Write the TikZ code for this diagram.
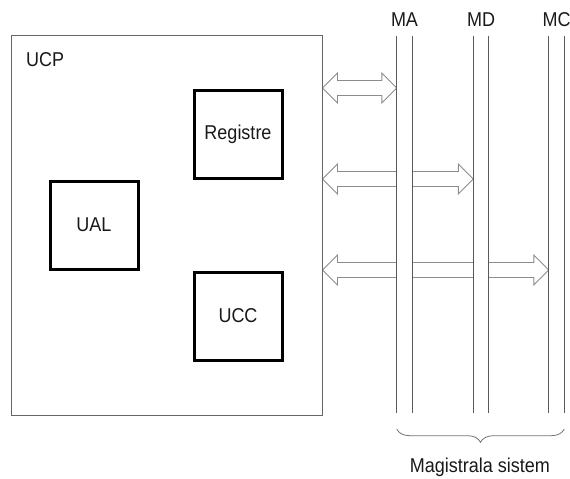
\documentclass[tikz,border=0pt]{standalone}
\usepackage{fontspec}
\setmainfont[FakeStretch=0.9]{Liberation Sans}
\usetikzlibrary{calc,backgrounds,decorations.pathreplacing}

% hollow double arrow from the UCP to a bus, at a given level
\newcommand\busarrow[2]{%
    \draw[busarr] let \p1=(ucp.east |- #1), \p2=(#2.west |- #1) in
        (\x1,\y1) -- (\x1+15pt,\y1+15pt) -- (\x1+15pt,\y1+7.5pt)
        -- (\x2-15pt,\y1+7.5pt) -- (\x2-15pt,\y1+15pt) -- (\x2,\y1)
        -- (\x2-15pt,\y1-15pt) -- (\x2-15pt,\y1-7.5pt)
        -- (\x1+15pt,\y1-7.5pt) -- (\x1+15pt,\y1-15pt) -- cycle;
}

\begin{document}
\begin{tikzpicture}[
    x=1pt, y=-1pt,
    every node/.style={font=\fontsize{20}{24}\selectfont, text=black!90},
    cpubox/.style={
        draw=black!60,
        line width=1pt,
        inner sep=0pt,
        minimum width=311pt,
        minimum height=380pt
    },
    unitbox/.style={
        draw=black,
        line width=3pt,
        inner sep=0pt,
        minimum size=88pt
    },
    busstrip/.style={
        fill=white,
        inner sep=0pt,
        minimum width=15pt,
        minimum height=377pt
    },
    busline/.style={draw=black!65, line width=0.9pt},
    busarr/.style={draw=black!45, line width=0.9pt, line join=miter},
    busbrace/.style={
        draw=black!55,
        line width=0.8pt,
        decorate,
        decoration={brace, mirror, amplitude=13pt}
    }
]
    \useasboundingbox (0,0) rectangle (570,479);

    % --- UCP AND ITS UNITS ---
    \node[cpubox] (ucp) at (166.5,225) {};
    \node[anchor=west, inner sep=0pt] (ucplabel) at (26,59.5) {UCP};

    \node[unitbox] (reg) at (238,134.5) {Registre};
    \node[unitbox] (ual) at (94,225) {UAL};
    \node[unitbox] (ucc) at (238,316) {UCC};

    % --- SYSTEM BUS ---
    \node[busstrip] (ma) at (404.5,224.5) {};
    \node[busstrip] (md) at (481,224.5) {};
    \node[busstrip] (mc) at (556.5,224.5) {};

    \foreach \b in {ma,md,mc} {
        \draw[busline] (\b.north west) -- (\b.south west);
        \draw[busline] (\b.north east) -- (\b.south east);
    }

    \node (malabel) at (ma.north |- 0,20) {MA};
    \node (mdlabel) at (md.north |- 0,20) {MD};
    \node (mclabel) at (mc.north |- 0,20) {MC};

    % --- ARROWS (under the bus strips) ---
    \coordinate (lvla) at (0,88);
    \coordinate (lvlb) at (0,179);
    \coordinate (lvlc) at (0,270);
    \begin{scope}[on background layer]
        \busarrow{lvla}{ma}
        \busarrow{lvlb}{md}
        \busarrow{lvlc}{mc}
    \end{scope}

    % --- BRACE ---
    \draw[busbrace] ([yshift=-16pt]ma.south west) -- ([yshift=-16pt]mc.south east);
    \node (buslabel) at (480,467) {Magistrala sistem};
\end{tikzpicture}
\end{document}
